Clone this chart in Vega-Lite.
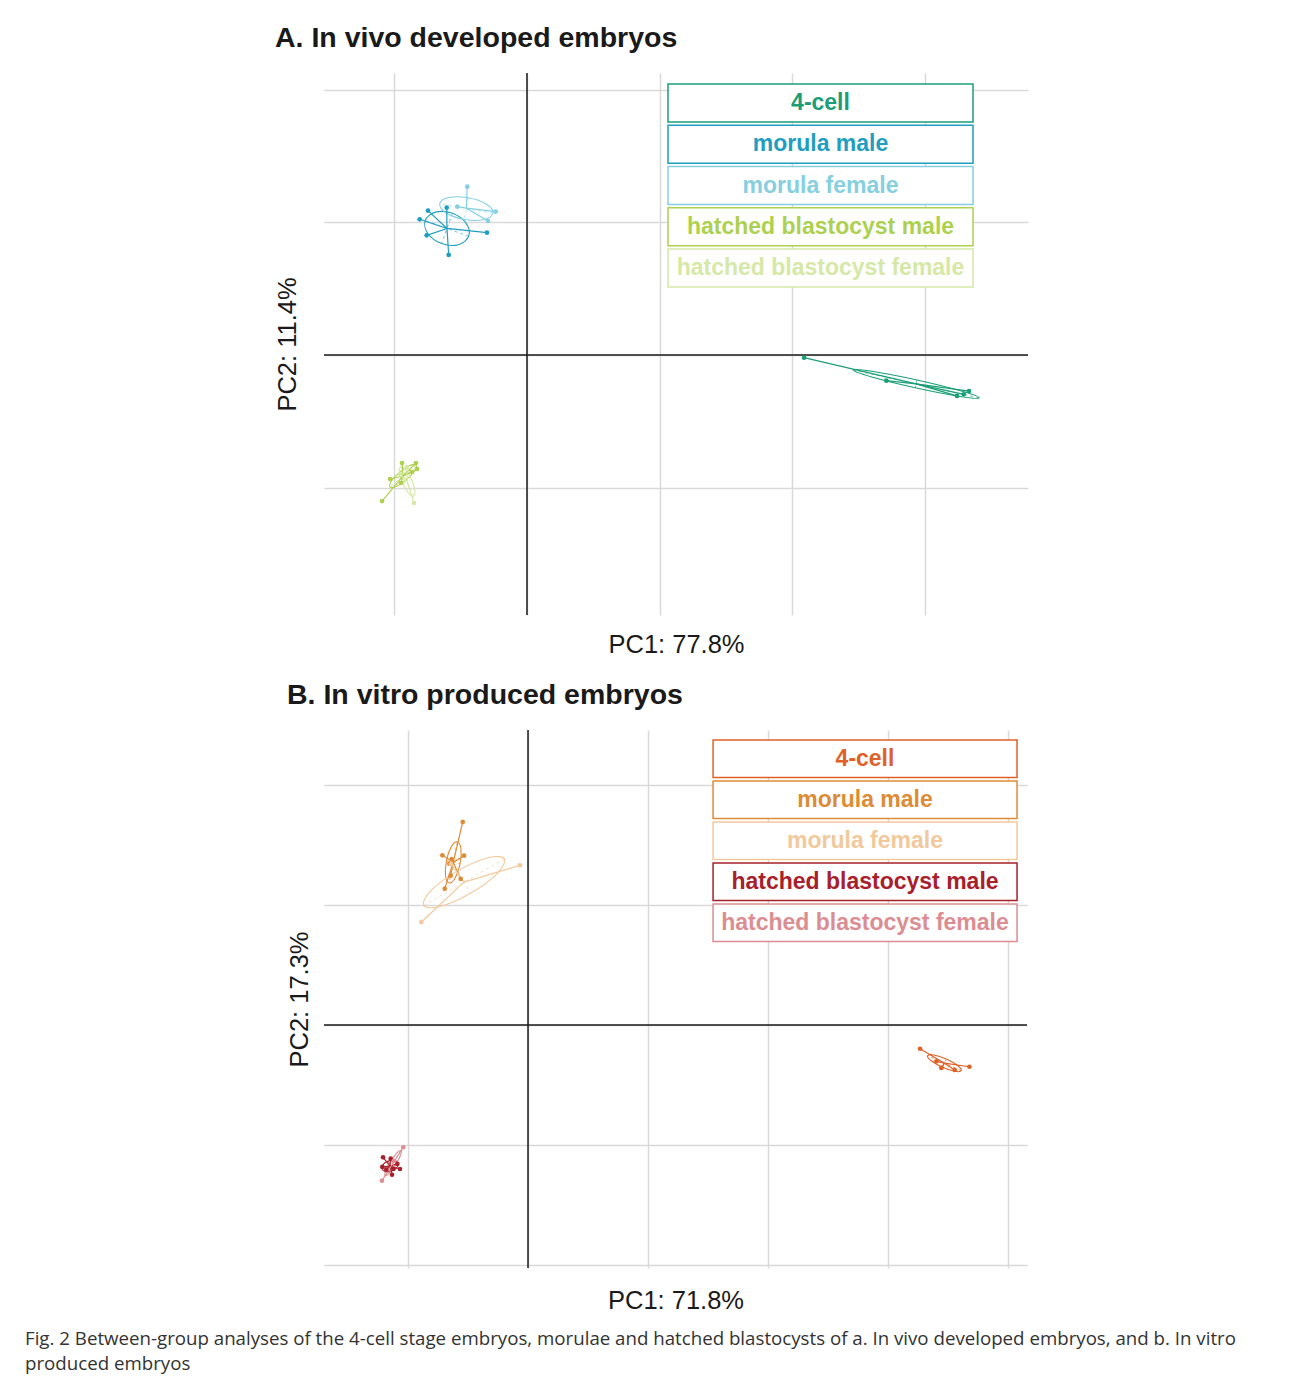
{
  "$schema": "https://vega.github.io/schema/vega-lite/v6.json",
  "padding": {"left": 25, "top": 23, "right": 5, "bottom": 5},
  "background": "white",
  "title": {
    "text": ["Fig. 2 Between-group analyses of the 4-cell stage embryos, morulae and hatched blastocysts of a. In vivo developed embryos, and b. In vitro", "produced embryos"],
    "orient": "bottom", "anchor": "start", "frame": "bounds", "dx": -250, "offset": 16,
    "font": "Open Sans", "fontSize": 18.7, "fontWeight": "normal", "color": "#333333", "lineHeight": 25
  },
  "datasets": {
    "ptsA": [
      {"group": "4-cell", "pc1": 2.091, "pc2": -0.020},
      {"group": "4-cell", "pc1": 2.712, "pc2": -0.194},
      {"group": "4-cell", "pc1": 3.245, "pc2": -0.309},
      {"group": "4-cell", "pc1": 3.296, "pc2": -0.297},
      {"group": "4-cell", "pc1": 3.336, "pc2": -0.272},
      {"group": "morula male", "pc1": -0.606, "pc2": 1.112},
      {"group": "morula male", "pc1": -0.747, "pc2": 1.089},
      {"group": "morula male", "pc1": -0.810, "pc2": 1.024},
      {"group": "morula male", "pc1": -0.757, "pc2": 0.903},
      {"group": "morula male", "pc1": -0.591, "pc2": 0.755},
      {"group": "morula male", "pc1": -0.302, "pc2": 0.923},
      {"group": "morula female", "pc1": -0.451, "pc2": 1.270},
      {"group": "morula female", "pc1": -0.526, "pc2": 1.119},
      {"group": "morula female", "pc1": -0.236, "pc2": 1.082},
      {"group": "morula female", "pc1": -0.294, "pc2": 1.011},
      {"group": "hatched blastocyst male", "pc1": -1.094, "pc2": -1.102},
      {"group": "hatched blastocyst male", "pc1": -1.034, "pc2": -0.936},
      {"group": "hatched blastocyst male", "pc1": -0.943, "pc2": -0.815},
      {"group": "hatched blastocyst male", "pc1": -0.838, "pc2": -0.815},
      {"group": "hatched blastocyst male", "pc1": -0.830, "pc2": -0.860},
      {"group": "hatched blastocyst male", "pc1": -0.951, "pc2": -0.966},
      {"group": "hatched blastocyst male", "pc1": -0.868, "pc2": -0.883},
      {"group": "hatched blastocyst female", "pc1": -0.853, "pc2": -1.117},
      {"group": "hatched blastocyst female", "pc1": -0.906, "pc2": -0.845},
      {"group": "hatched blastocyst female", "pc1": -0.956, "pc2": -0.903}
    ],
    "ctrA": [
      {"group": "4-cell", "cx": 2.936, "cy": -0.218},
      {"group": "morula male", "cx": -0.604, "cy": 0.955},
      {"group": "morula female", "cx": -0.458, "cy": 1.108},
      {"group": "hatched blastocyst male", "cx": -0.936, "cy": -0.913},
      {"group": "hatched blastocyst female", "cx": -0.905, "cy": -0.955}
    ],
    "ellA": [
      {"group": "4-cell", "t": 0, "pc1": 3.412, "pc2": -0.323},
      {"group": "4-cell", "t": 1, "pc1": 3.278, "pc2": -0.272},
      {"group": "4-cell", "t": 2, "pc1": 2.943, "pc2": -0.189},
      {"group": "4-cell", "t": 3, "pc1": 2.604, "pc2": -0.123},
      {"group": "4-cell", "t": 4, "pc1": 2.460, "pc2": -0.113},
      {"group": "4-cell", "t": 5, "pc1": 2.595, "pc2": -0.164},
      {"group": "4-cell", "t": 6, "pc1": 2.930, "pc2": -0.247},
      {"group": "4-cell", "t": 7, "pc1": 3.269, "pc2": -0.313},
      {"group": "morula male", "t": 0, "pc1": -0.440, "pc2": 0.896},
      {"group": "morula male", "t": 1, "pc1": -0.459, "pc2": 0.993},
      {"group": "morula male", "t": 2, "pc1": -0.563, "pc2": 1.069},
      {"group": "morula male", "t": 3, "pc1": -0.690, "pc2": 1.078},
      {"group": "morula male", "t": 4, "pc1": -0.768, "pc2": 1.015},
      {"group": "morula male", "t": 5, "pc1": -0.749, "pc2": 0.917},
      {"group": "morula male", "t": 6, "pc1": -0.645, "pc2": 0.841},
      {"group": "morula male", "t": 7, "pc1": -0.518, "pc2": 0.832},
      {"group": "morula female", "t": 0, "pc1": -0.257, "pc2": 1.070},
      {"group": "morula female", "t": 1, "pc1": -0.306, "pc2": 1.138},
      {"group": "morula female", "t": 2, "pc1": -0.444, "pc2": 1.187},
      {"group": "morula female", "t": 3, "pc1": -0.590, "pc2": 1.188},
      {"group": "morula female", "t": 4, "pc1": -0.659, "pc2": 1.141},
      {"group": "morula female", "t": 5, "pc1": -0.610, "pc2": 1.072},
      {"group": "morula female", "t": 6, "pc1": -0.472, "pc2": 1.023},
      {"group": "morula female", "t": 7, "pc1": -0.326, "pc2": 1.022},
      {"group": "hatched blastocyst male", "t": 0, "pc1": -0.838, "pc2": -0.831},
      {"group": "hatched blastocyst male", "t": 1, "pc1": -0.884, "pc2": -0.834},
      {"group": "hatched blastocyst male", "t": 2, "pc1": -0.960, "pc2": -0.884},
      {"group": "hatched blastocyst male", "t": 3, "pc1": -1.023, "pc2": -0.951},
      {"group": "hatched blastocyst male", "t": 4, "pc1": -1.034, "pc2": -0.995},
      {"group": "hatched blastocyst male", "t": 5, "pc1": -0.988, "pc2": -0.992},
      {"group": "hatched blastocyst male", "t": 6, "pc1": -0.912, "pc2": -0.942},
      {"group": "hatched blastocyst male", "t": 7, "pc1": -0.849, "pc2": -0.875},
      {"group": "hatched blastocyst female", "t": 0, "pc1": -0.856, "pc2": -1.065},
      {"group": "hatched blastocyst female", "t": 1, "pc1": -0.847, "pc2": -1.022},
      {"group": "hatched blastocyst female", "t": 2, "pc1": -0.872, "pc2": -0.940},
      {"group": "hatched blastocyst female", "t": 3, "pc1": -0.916, "pc2": -0.867},
      {"group": "hatched blastocyst female", "t": 4, "pc1": -0.954, "pc2": -0.845},
      {"group": "hatched blastocyst female", "t": 5, "pc1": -0.963, "pc2": -0.888},
      {"group": "hatched blastocyst female", "t": 6, "pc1": -0.938, "pc2": -0.970},
      {"group": "hatched blastocyst female", "t": 7, "pc1": -0.894, "pc2": -1.043}
    ],
    "ptsB": [
      {"group": "4-cell", "pc1": 3.267, "pc2": -0.198},
      {"group": "4-cell", "pc1": 3.403, "pc2": -0.303},
      {"group": "4-cell", "pc1": 3.444, "pc2": -0.358},
      {"group": "4-cell", "pc1": 3.556, "pc2": -0.375},
      {"group": "4-cell", "pc1": 3.678, "pc2": -0.348},
      {"group": "morula male", "pc1": -0.544, "pc2": 1.692},
      {"group": "morula male", "pc1": -0.714, "pc2": 1.414},
      {"group": "morula male", "pc1": -0.636, "pc2": 1.383},
      {"group": "morula male", "pc1": -0.533, "pc2": 1.411},
      {"group": "morula male", "pc1": -0.656, "pc2": 1.344},
      {"group": "morula male", "pc1": -0.644, "pc2": 1.244},
      {"group": "morula male", "pc1": -0.561, "pc2": 1.217},
      {"group": "morula male", "pc1": -0.694, "pc2": 1.136},
      {"group": "morula female", "pc1": -0.067, "pc2": 1.331},
      {"group": "morula female", "pc1": -0.889, "pc2": 0.858},
      {"group": "morula female", "pc1": -0.642, "pc2": 1.342},
      {"group": "hatched blastocyst male", "pc1": -1.208, "pc2": -1.103},
      {"group": "hatched blastocyst male", "pc1": -1.144, "pc2": -1.114},
      {"group": "hatched blastocyst male", "pc1": -1.214, "pc2": -1.183},
      {"group": "hatched blastocyst male", "pc1": -1.123, "pc2": -1.200},
      {"group": "hatched blastocyst male", "pc1": -1.133, "pc2": -1.248},
      {"group": "hatched blastocyst male", "pc1": -1.067, "pc2": -1.200},
      {"group": "hatched blastocyst male", "pc1": -1.089, "pc2": -1.158},
      {"group": "hatched blastocyst male", "pc1": -1.181, "pc2": -1.206},
      {"group": "hatched blastocyst female", "pc1": -1.039, "pc2": -1.019},
      {"group": "hatched blastocyst female", "pc1": -1.217, "pc2": -1.298},
      {"group": "hatched blastocyst female", "pc1": -1.117, "pc2": -1.133}
    ],
    "ctrB": [
      {"group": "4-cell", "cx": 3.470, "cy": -0.318},
      {"group": "morula male", "cx": -0.623, "cy": 1.355},
      {"group": "morula female", "cx": -0.533, "cy": 1.190},
      {"group": "hatched blastocyst male", "cx": -1.150, "cy": -1.175},
      {"group": "hatched blastocyst female", "cx": -1.124, "cy": -1.150}
    ],
    "ellB": [
      {"group": "4-cell", "t": 0, "pc1": 3.610, "pc2": -0.380},
      {"group": "4-cell", "t": 1, "pc1": 3.580, "pc2": -0.338},
      {"group": "4-cell", "t": 2, "pc1": 3.485, "pc2": -0.284},
      {"group": "4-cell", "t": 3, "pc1": 3.382, "pc2": -0.250},
      {"group": "4-cell", "t": 4, "pc1": 3.330, "pc2": -0.256},
      {"group": "4-cell", "t": 5, "pc1": 3.360, "pc2": -0.298},
      {"group": "4-cell", "t": 6, "pc1": 3.455, "pc2": -0.352},
      {"group": "4-cell", "t": 7, "pc1": 3.558, "pc2": -0.386},
      {"group": "morula male", "t": 0, "pc1": -0.590, "pc2": 1.527},
      {"group": "morula male", "t": 1, "pc1": -0.640, "pc2": 1.484},
      {"group": "morula male", "t": 2, "pc1": -0.680, "pc2": 1.366},
      {"group": "morula male", "t": 3, "pc1": -0.687, "pc2": 1.241},
      {"group": "morula male", "t": 4, "pc1": -0.656, "pc2": 1.183},
      {"group": "morula male", "t": 5, "pc1": -0.606, "pc2": 1.226},
      {"group": "morula male", "t": 6, "pc1": -0.566, "pc2": 1.344},
      {"group": "morula male", "t": 7, "pc1": -0.559, "pc2": 1.469},
      {"group": "morula female", "t": 0, "pc1": -0.197, "pc2": 1.384},
      {"group": "morula female", "t": 1, "pc1": -0.334, "pc2": 1.393},
      {"group": "morula female", "t": 2, "pc1": -0.587, "pc2": 1.284},
      {"group": "morula female", "t": 3, "pc1": -0.809, "pc2": 1.119},
      {"group": "morula female", "t": 4, "pc1": -0.869, "pc2": 0.996},
      {"group": "morula female", "t": 5, "pc1": -0.732, "pc2": 0.987},
      {"group": "morula female", "t": 6, "pc1": -0.479, "pc2": 1.097},
      {"group": "morula female", "t": 7, "pc1": -0.257, "pc2": 1.261},
      {"group": "hatched blastocyst male", "t": 0, "pc1": -1.084, "pc2": -1.151},
      {"group": "hatched blastocyst male", "t": 1, "pc1": -1.114, "pc2": -1.128},
      {"group": "hatched blastocyst male", "t": 2, "pc1": -1.165, "pc2": -1.133},
      {"group": "hatched blastocyst male", "t": 3, "pc1": -1.207, "pc2": -1.162},
      {"group": "hatched blastocyst male", "t": 4, "pc1": -1.216, "pc2": -1.199},
      {"group": "hatched blastocyst male", "t": 5, "pc1": -1.186, "pc2": -1.222},
      {"group": "hatched blastocyst male", "t": 6, "pc1": -1.135, "pc2": -1.217},
      {"group": "hatched blastocyst male", "t": 7, "pc1": -1.093, "pc2": -1.188},
      {"group": "hatched blastocyst female", "t": 0, "pc1": -1.058, "pc2": -1.044},
      {"group": "hatched blastocyst female", "t": 1, "pc1": -1.092, "pc2": -1.066},
      {"group": "hatched blastocyst female", "t": 2, "pc1": -1.145, "pc2": -1.137},
      {"group": "hatched blastocyst female", "t": 3, "pc1": -1.186, "pc2": -1.216},
      {"group": "hatched blastocyst female", "t": 4, "pc1": -1.190, "pc2": -1.256},
      {"group": "hatched blastocyst female", "t": 5, "pc1": -1.156, "pc2": -1.234},
      {"group": "hatched blastocyst female", "t": 6, "pc1": -1.103, "pc2": -1.163},
      {"group": "hatched blastocyst female", "t": 7, "pc1": -1.062, "pc2": -1.085}
    ]
  },
  "vconcat": [
    {
      "width": 704, "height": 542,
      "title": {"text": "A. In vivo developed embryos", "anchor": "start", "font": "Liberation Sans", "fontSize": 28.5, "fontWeight": "bold", "color": "#1a1a1a", "offset": 20},
      "layer": [
        {
          "data": {"name": "ellA"},
          "transform": [
            {"filter": "datum.t % 2 == 0"},
            {"calculate": "datum.group + (datum.t % 4 == 0 ? ' major' : ' minor')", "as": "semiaxis"}
          ],
          "mark": {"type": "line", "strokeDash": [3, 3], "strokeWidth": 0.8, "opacity": 0.8},
          "encoding": {
            "x": {"field": "pc1", "type": "quantitative", "scale": {"domain": [-1.532, 3.781], "nice": false, "zero": false},
              "axis": {"title": "PC1: 77.8%", "values": [-1, 0, 1, 2, 3], "labels": false, "ticks": false, "domain": false, "grid": true, "gridColor": "#d9d9d9", "gridWidth": 1.5, "titleFont": "Liberation Sans", "titleFontSize": 25.5, "titleFontWeight": "normal", "titleColor": "#1a1a1a", "titlePadding": 17}},
            "y": {"field": "pc2", "type": "quantitative", "scale": {"domain": [-1.962, 2.128], "nice": false, "zero": false},
              "axis": {"title": "PC2: 11.4%", "values": [-1, 0, 1, 2], "labels": false, "ticks": false, "domain": false, "grid": true, "gridColor": "#d9d9d9", "gridWidth": 1.5, "titleFont": "Liberation Sans", "titleFontSize": 25.5, "titleFontWeight": "normal", "titleColor": "#1a1a1a", "titlePadding": 24}},
            "detail": {"field": "semiaxis"},
            "order": {"field": "t"},
            "color": {"field": "group", "type": "nominal", "legend": null,
              "scale": {"domain": ["4-cell", "morula male", "morula female", "hatched blastocyst male", "hatched blastocyst female"], "range": ["#1b9e77", "#1f9ec2", "#86cfe1", "#add14f", "#d6e8a6"]}}
          }
        },
        {
          "data": {"values": [{}]},
          "mark": {"type": "rule", "color": "#1a1a1a", "strokeWidth": 1.5},
          "encoding": {"x": {"datum": 0, "type": "quantitative", "scale": {"domain": [-1.532, 3.781], "nice": false, "zero": false},
              "axis": {"title": "PC1: 77.8%", "values": [-1, 0, 1, 2, 3], "labels": false, "ticks": false, "domain": false, "grid": true, "gridColor": "#d9d9d9", "gridWidth": 1.5, "titleFont": "Liberation Sans", "titleFontSize": 25.5, "titleFontWeight": "normal", "titleColor": "#1a1a1a", "titlePadding": 17}}}
        },
        {
          "data": {"values": [{}]},
          "mark": {"type": "rule", "color": "#1a1a1a", "strokeWidth": 1.5},
          "encoding": {"y": {"datum": 0, "type": "quantitative", "scale": {"domain": [-1.962, 2.128], "nice": false, "zero": false},
              "axis": {"title": "PC2: 11.4%", "values": [-1, 0, 1, 2], "labels": false, "ticks": false, "domain": false, "grid": true, "gridColor": "#d9d9d9", "gridWidth": 1.5, "titleFont": "Liberation Sans", "titleFontSize": 25.5, "titleFontWeight": "normal", "titleColor": "#1a1a1a", "titlePadding": 24}}}
        },
        {
          "data": {"name": "ellA"},
          "mark": {"type": "line", "interpolate": "cardinal-closed", "strokeWidth": 1.1},
          "encoding": {
            "x": {"field": "pc1", "type": "quantitative", "scale": {"domain": [-1.532, 3.781], "nice": false, "zero": false},
              "axis": {"title": "PC1: 77.8%", "values": [-1, 0, 1, 2, 3], "labels": false, "ticks": false, "domain": false, "grid": true, "gridColor": "#d9d9d9", "gridWidth": 1.5, "titleFont": "Liberation Sans", "titleFontSize": 25.5, "titleFontWeight": "normal", "titleColor": "#1a1a1a", "titlePadding": 17}},
            "y": {"field": "pc2", "type": "quantitative", "scale": {"domain": [-1.962, 2.128], "nice": false, "zero": false},
              "axis": {"title": "PC2: 11.4%", "values": [-1, 0, 1, 2], "labels": false, "ticks": false, "domain": false, "grid": true, "gridColor": "#d9d9d9", "gridWidth": 1.5, "titleFont": "Liberation Sans", "titleFontSize": 25.5, "titleFontWeight": "normal", "titleColor": "#1a1a1a", "titlePadding": 24}},
            "detail": {"field": "group"},
            "order": {"field": "t"},
            "color": {"field": "group", "type": "nominal", "legend": null,
              "scale": {"domain": ["4-cell", "morula male", "morula female", "hatched blastocyst male", "hatched blastocyst female"], "range": ["#1b9e77", "#1f9ec2", "#86cfe1", "#add14f", "#d6e8a6"]}}
          }
        },
        {
          "data": {"name": "ptsA"},
          "transform": [{"lookup": "group", "from": {"data": {"name": "ctrA"}, "key": "group", "fields": ["cx", "cy"]}}],
          "mark": {"type": "rule", "strokeWidth": 1.2},
          "encoding": {
            "x": {"field": "pc1", "type": "quantitative", "scale": {"domain": [-1.532, 3.781], "nice": false, "zero": false},
              "axis": {"title": "PC1: 77.8%", "values": [-1, 0, 1, 2, 3], "labels": false, "ticks": false, "domain": false, "grid": true, "gridColor": "#d9d9d9", "gridWidth": 1.5, "titleFont": "Liberation Sans", "titleFontSize": 25.5, "titleFontWeight": "normal", "titleColor": "#1a1a1a", "titlePadding": 17}},
            "y": {"field": "pc2", "type": "quantitative", "scale": {"domain": [-1.962, 2.128], "nice": false, "zero": false},
              "axis": {"title": "PC2: 11.4%", "values": [-1, 0, 1, 2], "labels": false, "ticks": false, "domain": false, "grid": true, "gridColor": "#d9d9d9", "gridWidth": 1.5, "titleFont": "Liberation Sans", "titleFontSize": 25.5, "titleFontWeight": "normal", "titleColor": "#1a1a1a", "titlePadding": 24}},
            "x2": {"field": "cx"},
            "y2": {"field": "cy"},
            "color": {"field": "group", "type": "nominal", "legend": null,
              "scale": {"domain": ["4-cell", "morula male", "morula female", "hatched blastocyst male", "hatched blastocyst female"], "range": ["#1b9e77", "#1f9ec2", "#86cfe1", "#add14f", "#d6e8a6"]}}
          }
        },
        {
          "data": {"name": "ptsA"},
          "mark": {"type": "circle", "size": 22, "opacity": 1},
          "encoding": {
            "x": {"field": "pc1", "type": "quantitative", "scale": {"domain": [-1.532, 3.781], "nice": false, "zero": false},
              "axis": {"title": "PC1: 77.8%", "values": [-1, 0, 1, 2, 3], "labels": false, "ticks": false, "domain": false, "grid": true, "gridColor": "#d9d9d9", "gridWidth": 1.5, "titleFont": "Liberation Sans", "titleFontSize": 25.5, "titleFontWeight": "normal", "titleColor": "#1a1a1a", "titlePadding": 17}},
            "y": {"field": "pc2", "type": "quantitative", "scale": {"domain": [-1.962, 2.128], "nice": false, "zero": false},
              "axis": {"title": "PC2: 11.4%", "values": [-1, 0, 1, 2], "labels": false, "ticks": false, "domain": false, "grid": true, "gridColor": "#d9d9d9", "gridWidth": 1.5, "titleFont": "Liberation Sans", "titleFontSize": 25.5, "titleFontWeight": "normal", "titleColor": "#1a1a1a", "titlePadding": 24}},
            "color": {"field": "group", "type": "nominal", "legend": null,
              "scale": {"domain": ["4-cell", "morula male", "morula female", "hatched blastocyst male", "hatched blastocyst female"], "range": ["#1b9e77", "#1f9ec2", "#86cfe1", "#add14f", "#d6e8a6"]}}
          }
        },
        {
          "data": {"name": "ctrA"},
          "transform": [
            {"calculate": "2.045 - 0.3113 * indexof(['4-cell', 'morula male', 'morula female', 'hatched blastocyst male', 'hatched blastocyst female'], datum.group)", "as": "boxTop"},
            {"calculate": "datum.boxTop - 0.2868", "as": "boxBottom"},
            {"calculate": "datum.boxTop - 0.1434", "as": "boxMid"}
          ],
          "layer": [
            {
              "mark": {"type": "rect", "fill": "white", "strokeWidth": 1.5},
              "encoding": {
                "x": {"datum": 1.064, "type": "quantitative", "scale": {"domain": [-1.532, 3.781], "nice": false, "zero": false},
                  "axis": {"title": "PC1: 77.8%", "values": [-1, 0, 1, 2, 3], "labels": false, "ticks": false, "domain": false, "grid": true, "gridColor": "#d9d9d9", "gridWidth": 1.5, "titleFont": "Liberation Sans", "titleFontSize": 25.5, "titleFontWeight": "normal", "titleColor": "#1a1a1a", "titlePadding": 17}},
                "x2": {"datum": 3.366},
                "y": {"field": "boxTop", "type": "quantitative", "scale": {"domain": [-1.962, 2.128], "nice": false, "zero": false},
                  "axis": {"title": "PC2: 11.4%", "values": [-1, 0, 1, 2], "labels": false, "ticks": false, "domain": false, "grid": true, "gridColor": "#d9d9d9", "gridWidth": 1.5, "titleFont": "Liberation Sans", "titleFontSize": 25.5, "titleFontWeight": "normal", "titleColor": "#1a1a1a", "titlePadding": 24}},
                "y2": {"field": "boxBottom"},
                "stroke": {"field": "group", "type": "nominal", "legend": null,
                  "scale": {"domain": ["4-cell", "morula male", "morula female", "hatched blastocyst male", "hatched blastocyst female"], "range": ["#1b9e77", "#1f9ec2", "#86cfe1", "#add14f", "#d6e8a6"]}}
              }
            },
            {
              "mark": {"type": "text", "font": "Liberation Sans", "fontSize": 23, "fontWeight": "bold", "align": "center", "baseline": "middle"},
              "encoding": {
                "x": {"datum": 2.215, "type": "quantitative", "scale": {"domain": [-1.532, 3.781], "nice": false, "zero": false},
                  "axis": {"title": "PC1: 77.8%", "values": [-1, 0, 1, 2, 3], "labels": false, "ticks": false, "domain": false, "grid": true, "gridColor": "#d9d9d9", "gridWidth": 1.5, "titleFont": "Liberation Sans", "titleFontSize": 25.5, "titleFontWeight": "normal", "titleColor": "#1a1a1a", "titlePadding": 17}},
                "y": {"field": "boxMid", "type": "quantitative", "scale": {"domain": [-1.962, 2.128], "nice": false, "zero": false},
                  "axis": {"title": "PC2: 11.4%", "values": [-1, 0, 1, 2], "labels": false, "ticks": false, "domain": false, "grid": true, "gridColor": "#d9d9d9", "gridWidth": 1.5, "titleFont": "Liberation Sans", "titleFontSize": 25.5, "titleFontWeight": "normal", "titleColor": "#1a1a1a", "titlePadding": 24}},
                "text": {"field": "group"},
                "color": {"field": "group", "type": "nominal", "legend": null,
                  "scale": {"domain": ["4-cell", "morula male", "morula female", "hatched blastocyst male", "hatched blastocyst female"], "range": ["#1b9e77", "#1f9ec2", "#86cfe1", "#add14f", "#d6e8a6"]}}
              }
            }
          ]
        }
      ]
    },
    {
      "width": 703, "height": 538,
      "title": {"text": "B. In vitro produced embryos", "anchor": "start", "font": "Liberation Sans", "fontSize": 28.5, "fontWeight": "bold", "color": "#1a1a1a", "offset": 20},
      "layer": [
        {
          "data": {"name": "ellB"},
          "transform": [
            {"filter": "datum.t % 2 == 0"},
            {"calculate": "datum.group + (datum.t % 4 == 0 ? ' major' : ' minor')", "as": "semiaxis"}
          ],
          "mark": {"type": "line", "strokeDash": [3, 3], "strokeWidth": 0.8, "opacity": 0.8},
          "encoding": {
            "x": {"field": "pc1", "type": "quantitative", "scale": {"domain": [-1.70, 4.158], "nice": false, "zero": false},
              "axis": {"title": "PC1: 71.8%", "values": [-1, 0, 1, 2, 3, 4], "labels": false, "ticks": false, "domain": false, "grid": true, "gridColor": "#d9d9d9", "gridWidth": 1.5, "titleFont": "Liberation Sans", "titleFontSize": 25.5, "titleFontWeight": "normal", "titleColor": "#1a1a1a", "titlePadding": 20}},
            "y": {"field": "pc2", "type": "quantitative", "scale": {"domain": [-2.025, 2.458], "nice": false, "zero": false},
              "axis": {"title": "PC2: 17.3%", "values": [-2, -1, 0, 1, 2], "labels": false, "ticks": false, "domain": false, "grid": true, "gridColor": "#d9d9d9", "gridWidth": 1.5, "titleFont": "Liberation Sans", "titleFontSize": 25.5, "titleFontWeight": "normal", "titleColor": "#1a1a1a", "titlePadding": 12}},
            "detail": {"field": "semiaxis"},
            "order": {"field": "t"},
            "color": {"field": "group", "type": "nominal", "legend": null,
              "scale": {"domain": ["4-cell", "morula male", "morula female", "hatched blastocyst male", "hatched blastocyst female"], "range": ["#de6127", "#de8b36", "#f2c99c", "#a8202b", "#dc8d92"]}}
          }
        },
        {
          "data": {"values": [{}]},
          "mark": {"type": "rule", "color": "#1a1a1a", "strokeWidth": 1.5},
          "encoding": {"x": {"datum": 0, "type": "quantitative", "scale": {"domain": [-1.70, 4.158], "nice": false, "zero": false},
              "axis": {"title": "PC1: 71.8%", "values": [-1, 0, 1, 2, 3, 4], "labels": false, "ticks": false, "domain": false, "grid": true, "gridColor": "#d9d9d9", "gridWidth": 1.5, "titleFont": "Liberation Sans", "titleFontSize": 25.5, "titleFontWeight": "normal", "titleColor": "#1a1a1a", "titlePadding": 20}}}
        },
        {
          "data": {"values": [{}]},
          "mark": {"type": "rule", "color": "#1a1a1a", "strokeWidth": 1.5},
          "encoding": {"y": {"datum": 0, "type": "quantitative", "scale": {"domain": [-2.025, 2.458], "nice": false, "zero": false},
              "axis": {"title": "PC2: 17.3%", "values": [-2, -1, 0, 1, 2], "labels": false, "ticks": false, "domain": false, "grid": true, "gridColor": "#d9d9d9", "gridWidth": 1.5, "titleFont": "Liberation Sans", "titleFontSize": 25.5, "titleFontWeight": "normal", "titleColor": "#1a1a1a", "titlePadding": 12}}}
        },
        {
          "data": {"name": "ellB"},
          "mark": {"type": "line", "interpolate": "cardinal-closed", "strokeWidth": 1.1},
          "encoding": {
            "x": {"field": "pc1", "type": "quantitative", "scale": {"domain": [-1.70, 4.158], "nice": false, "zero": false},
              "axis": {"title": "PC1: 71.8%", "values": [-1, 0, 1, 2, 3, 4], "labels": false, "ticks": false, "domain": false, "grid": true, "gridColor": "#d9d9d9", "gridWidth": 1.5, "titleFont": "Liberation Sans", "titleFontSize": 25.5, "titleFontWeight": "normal", "titleColor": "#1a1a1a", "titlePadding": 20}},
            "y": {"field": "pc2", "type": "quantitative", "scale": {"domain": [-2.025, 2.458], "nice": false, "zero": false},
              "axis": {"title": "PC2: 17.3%", "values": [-2, -1, 0, 1, 2], "labels": false, "ticks": false, "domain": false, "grid": true, "gridColor": "#d9d9d9", "gridWidth": 1.5, "titleFont": "Liberation Sans", "titleFontSize": 25.5, "titleFontWeight": "normal", "titleColor": "#1a1a1a", "titlePadding": 12}},
            "detail": {"field": "group"},
            "order": {"field": "t"},
            "color": {"field": "group", "type": "nominal", "legend": null,
              "scale": {"domain": ["4-cell", "morula male", "morula female", "hatched blastocyst male", "hatched blastocyst female"], "range": ["#de6127", "#de8b36", "#f2c99c", "#a8202b", "#dc8d92"]}}
          }
        },
        {
          "data": {"name": "ptsB"},
          "transform": [{"lookup": "group", "from": {"data": {"name": "ctrB"}, "key": "group", "fields": ["cx", "cy"]}}],
          "mark": {"type": "rule", "strokeWidth": 1.2},
          "encoding": {
            "x": {"field": "pc1", "type": "quantitative", "scale": {"domain": [-1.70, 4.158], "nice": false, "zero": false},
              "axis": {"title": "PC1: 71.8%", "values": [-1, 0, 1, 2, 3, 4], "labels": false, "ticks": false, "domain": false, "grid": true, "gridColor": "#d9d9d9", "gridWidth": 1.5, "titleFont": "Liberation Sans", "titleFontSize": 25.5, "titleFontWeight": "normal", "titleColor": "#1a1a1a", "titlePadding": 20}},
            "y": {"field": "pc2", "type": "quantitative", "scale": {"domain": [-2.025, 2.458], "nice": false, "zero": false},
              "axis": {"title": "PC2: 17.3%", "values": [-2, -1, 0, 1, 2], "labels": false, "ticks": false, "domain": false, "grid": true, "gridColor": "#d9d9d9", "gridWidth": 1.5, "titleFont": "Liberation Sans", "titleFontSize": 25.5, "titleFontWeight": "normal", "titleColor": "#1a1a1a", "titlePadding": 12}},
            "x2": {"field": "cx"},
            "y2": {"field": "cy"},
            "color": {"field": "group", "type": "nominal", "legend": null,
              "scale": {"domain": ["4-cell", "morula male", "morula female", "hatched blastocyst male", "hatched blastocyst female"], "range": ["#de6127", "#de8b36", "#f2c99c", "#a8202b", "#dc8d92"]}}
          }
        },
        {
          "data": {"name": "ptsB"},
          "mark": {"type": "circle", "size": 22, "opacity": 1},
          "encoding": {
            "x": {"field": "pc1", "type": "quantitative", "scale": {"domain": [-1.70, 4.158], "nice": false, "zero": false},
              "axis": {"title": "PC1: 71.8%", "values": [-1, 0, 1, 2, 3, 4], "labels": false, "ticks": false, "domain": false, "grid": true, "gridColor": "#d9d9d9", "gridWidth": 1.5, "titleFont": "Liberation Sans", "titleFontSize": 25.5, "titleFontWeight": "normal", "titleColor": "#1a1a1a", "titlePadding": 20}},
            "y": {"field": "pc2", "type": "quantitative", "scale": {"domain": [-2.025, 2.458], "nice": false, "zero": false},
              "axis": {"title": "PC2: 17.3%", "values": [-2, -1, 0, 1, 2], "labels": false, "ticks": false, "domain": false, "grid": true, "gridColor": "#d9d9d9", "gridWidth": 1.5, "titleFont": "Liberation Sans", "titleFontSize": 25.5, "titleFontWeight": "normal", "titleColor": "#1a1a1a", "titlePadding": 12}},
            "color": {"field": "group", "type": "nominal", "legend": null,
              "scale": {"domain": ["4-cell", "morula male", "morula female", "hatched blastocyst male", "hatched blastocyst female"], "range": ["#de6127", "#de8b36", "#f2c99c", "#a8202b", "#dc8d92"]}}
          }
        },
        {
          "data": {"name": "ctrB"},
          "transform": [
            {"calculate": "2.375 - 0.3417 * indexof(['4-cell', 'morula male', 'morula female', 'hatched blastocyst male', 'hatched blastocyst female'], datum.group)", "as": "boxTop"},
            {"calculate": "datum.boxTop - 0.3125", "as": "boxBottom"},
            {"calculate": "datum.boxTop - 0.1562", "as": "boxMid"}
          ],
          "layer": [
            {
              "mark": {"type": "rect", "fill": "white", "strokeWidth": 1.5},
              "encoding": {
                "x": {"datum": 1.542, "type": "quantitative", "scale": {"domain": [-1.70, 4.158], "nice": false, "zero": false},
                  "axis": {"title": "PC1: 71.8%", "values": [-1, 0, 1, 2, 3, 4], "labels": false, "ticks": false, "domain": false, "grid": true, "gridColor": "#d9d9d9", "gridWidth": 1.5, "titleFont": "Liberation Sans", "titleFontSize": 25.5, "titleFontWeight": "normal", "titleColor": "#1a1a1a", "titlePadding": 20}},
                "x2": {"datum": 4.075},
                "y": {"field": "boxTop", "type": "quantitative", "scale": {"domain": [-2.025, 2.458], "nice": false, "zero": false},
                  "axis": {"title": "PC2: 17.3%", "values": [-2, -1, 0, 1, 2], "labels": false, "ticks": false, "domain": false, "grid": true, "gridColor": "#d9d9d9", "gridWidth": 1.5, "titleFont": "Liberation Sans", "titleFontSize": 25.5, "titleFontWeight": "normal", "titleColor": "#1a1a1a", "titlePadding": 12}},
                "y2": {"field": "boxBottom"},
                "stroke": {"field": "group", "type": "nominal", "legend": null,
                  "scale": {"domain": ["4-cell", "morula male", "morula female", "hatched blastocyst male", "hatched blastocyst female"], "range": ["#de6127", "#de8b36", "#f2c99c", "#a8202b", "#dc8d92"]}}
              }
            },
            {
              "mark": {"type": "text", "font": "Liberation Sans", "fontSize": 23, "fontWeight": "bold", "align": "center", "baseline": "middle"},
              "encoding": {
                "x": {"datum": 2.808, "type": "quantitative", "scale": {"domain": [-1.70, 4.158], "nice": false, "zero": false},
                  "axis": {"title": "PC1: 71.8%", "values": [-1, 0, 1, 2, 3, 4], "labels": false, "ticks": false, "domain": false, "grid": true, "gridColor": "#d9d9d9", "gridWidth": 1.5, "titleFont": "Liberation Sans", "titleFontSize": 25.5, "titleFontWeight": "normal", "titleColor": "#1a1a1a", "titlePadding": 20}},
                "y": {"field": "boxMid", "type": "quantitative", "scale": {"domain": [-2.025, 2.458], "nice": false, "zero": false},
                  "axis": {"title": "PC2: 17.3%", "values": [-2, -1, 0, 1, 2], "labels": false, "ticks": false, "domain": false, "grid": true, "gridColor": "#d9d9d9", "gridWidth": 1.5, "titleFont": "Liberation Sans", "titleFontSize": 25.5, "titleFontWeight": "normal", "titleColor": "#1a1a1a", "titlePadding": 12}},
                "text": {"field": "group"},
                "color": {"field": "group", "type": "nominal", "legend": null,
                  "scale": {"domain": ["4-cell", "morula male", "morula female", "hatched blastocyst male", "hatched blastocyst female"], "range": ["#de6127", "#de8b36", "#f2c99c", "#a8202b", "#dc8d92"]}}
              }
            }
          ]
        }
      ]
    }
  ],
  "spacing": 22,
  "resolve": {"scale": {"x": "independent", "y": "independent", "color": "independent", "stroke": "independent"}},
  "config": {"view": {"stroke": null}, "font": "Liberation Sans"}
}
